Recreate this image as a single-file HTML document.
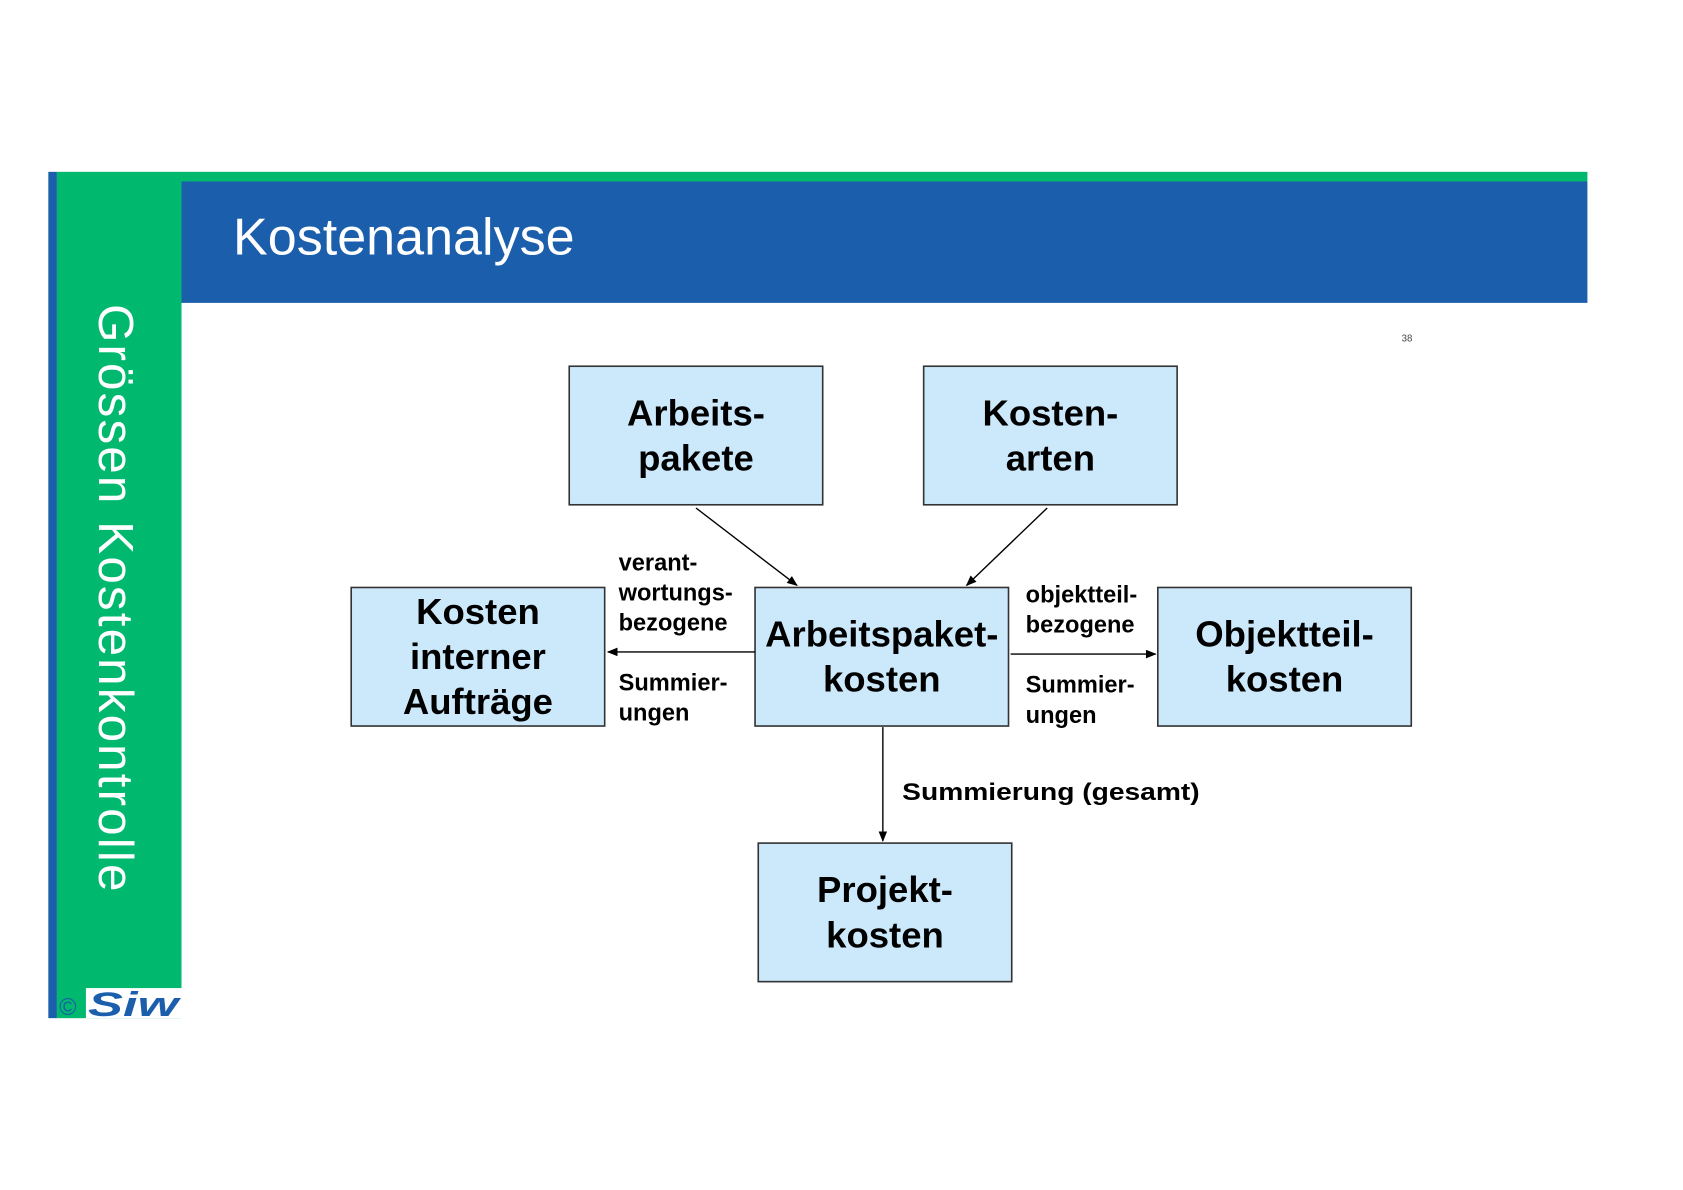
<!DOCTYPE html>
<html><head><meta charset="utf-8"><style>
html,body{margin:0;padding:0;background:#fff;}
svg{display:block}
</style></head><body>
<svg width="1683" height="1190" viewBox="0 0 1567 1108" preserveAspectRatio="none" xmlns="http://www.w3.org/2000/svg">
<rect x="0" y="0" width="1567" height="1108" fill="#fff"/>
<rect x="45" y="160" width="8" height="788" fill="#1b5eab"/>
<rect x="53" y="160" width="116" height="788" fill="#00b96f"/>
<rect x="169" y="160" width="1309" height="9" fill="#00b96f"/>
<rect x="169" y="169" width="1309" height="113" fill="#1b5eab"/>
<text x="217" y="237" font-family="Liberation Sans, sans-serif" font-size="48" fill="#fff" textLength="318" lengthAdjust="spacingAndGlyphs">Kostenanalyse</text>
<text transform="translate(92,283) rotate(90)" font-family="Liberation Sans, sans-serif" font-size="46" fill="#fff" textLength="547">Grössen Kostenkontrolle</text>
<rect x="80" y="920" width="89" height="28" fill="#fff"/>
<text x="55" y="945" font-family="Liberation Sans, sans-serif" font-size="22" fill="#1b5eab">©</text>
<text x="82" y="946" font-family="Liberation Sans, sans-serif" font-size="32" font-weight="bold" font-style="italic" fill="#1b5eab" textLength="84" lengthAdjust="spacingAndGlyphs">Siw</text>
<text x="1305" y="318" font-family="Liberation Sans, sans-serif" font-size="9" fill="#444">38</text>
<g fill="#cce9fb" stroke="#333" stroke-width="1.5">
<rect x="530" y="341" width="236" height="129"/>
<rect x="860" y="341" width="236" height="129"/>
<rect x="327" y="547" width="236" height="129"/>
<rect x="703" y="547" width="236" height="129"/>
<rect x="1078" y="547" width="236" height="129"/>
<rect x="706" y="785" width="236" height="129"/>
</g>
<g font-family="Liberation Sans, sans-serif" font-weight="bold" font-size="34" fill="#000" text-anchor="middle">
<text x="648" y="396">Arbeits-</text><text x="648" y="438">pakete</text>
<text x="978" y="396">Kosten-</text><text x="978" y="438">arten</text>
<text x="445" y="581">Kosten</text><text x="445" y="623">interner</text><text x="445" y="665">Aufträge</text>
<text x="821" y="602">Arbeitspaket-</text><text x="821" y="644">kosten</text>
<text x="1196" y="602">Objektteil-</text><text x="1196" y="644">kosten</text>
<text x="824" y="840">Projekt-</text><text x="824" y="882">kosten</text>
</g>
<g font-family="Liberation Sans, sans-serif" font-weight="bold" font-size="22" fill="#000">
<text x="576" y="531">verant-</text><text x="576" y="559">wortungs-</text><text x="576" y="587">bezogene</text>
<text x="576" y="643">Summier-</text><text x="576" y="671">ungen</text>
<text x="955" y="561">objektteil-</text><text x="955" y="589">bezogene</text>
<text x="955" y="645">Summier-</text><text x="955" y="673">ungen</text>
<text x="840" y="745" textLength="277" lengthAdjust="spacingAndGlyphs">Summierung (gesamt)</text>
</g>
<defs><marker id="a" markerWidth="10" markerHeight="8" refX="9" refY="4" orient="auto" markerUnits="userSpaceOnUse"><path d="M0,0 L10,4 L0,8 z" fill="#000"/></marker></defs>
<g stroke="#000" stroke-width="1.3" marker-end="url(#a)">
<line x1="648" y1="473" x2="742" y2="545"/>
<line x1="975" y1="473" x2="900" y2="545"/>
<line x1="703" y1="607" x2="566" y2="607"/>
<line x1="941" y1="609" x2="1076" y2="609"/>
<line x1="822" y1="677" x2="822" y2="783"/>
</g>
</svg>
</body></html>
